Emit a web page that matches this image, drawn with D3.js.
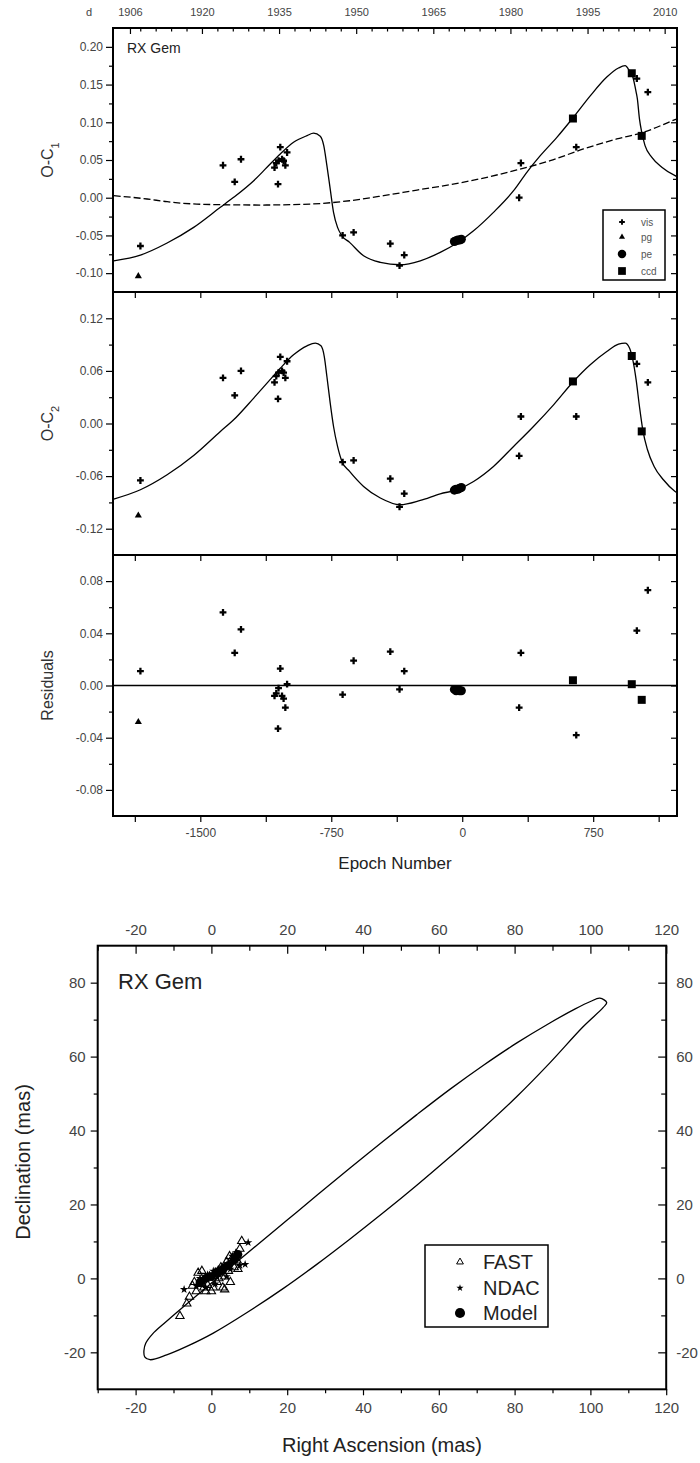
<!DOCTYPE html>
<html>
<head>
<meta charset="utf-8">
<script src="https://cdn.jsdelivr.net/npm/d3@7"></script>
<style>
  body { margin: 0; background: #fff; }
  svg text { font-family: Arial, "Liberation Sans", sans-serif; }
  .tick text { fill: #444; }
  .axis path.domain { display: none; }
  .axis line { stroke: #000; stroke-width: 1.2; }
</style>
</head>
<body>
<svg id="chart"></svg>
<script>
// ---------- O-C data ----------
const obsEpoch = [-1855, -1843, -1370, -1303, -1267, -1042, -1055, -1065, -1052, -1032, -1013, -1003, -1075, -1023,
  -685, -622, -412, -359, -332, -45, -35, -25, -15, -5, 336, 326, 634, 653, 971, 1000, 1063, 1028];
const obsType = ['pg', 'vis', 'vis', 'vis', 'vis', 'vis', 'vis', 'vis', 'vis', 'vis', 'vis', 'vis', 'vis', 'vis',
  'vis', 'vis', 'vis', 'vis', 'vis', 'pe', 'pe', 'pe', 'pe', 'pe', 'vis', 'vis', 'ccd', 'vis', 'ccd', 'vis', 'vis', 'ccd'];
const obsOC1 = [-0.104, -0.064, 0.043, 0.021, 0.051, 0.067, 0.018, 0.046, 0.049, 0.051, 0.043, 0.060, 0.040, 0.049,
  -0.050, -0.046, -0.061, -0.090, -0.076, -0.058, -0.057, -0.056, -0.056, -0.055, 0.046, 0.000, 0.105, 0.067, 0.165, 0.158, 0.140, 0.082];
const obsOC2 = [-0.105, -0.065, 0.052, 0.032, 0.060, 0.076, 0.028, 0.054, 0.058, 0.060, 0.052, 0.071, 0.047, 0.058,
  -0.044, -0.042, -0.063, -0.095, -0.080, -0.076, -0.075, -0.075, -0.074, -0.073, 0.008, -0.037, 0.048, 0.008, 0.077, 0.068, 0.047, -0.009];
const obsResidual = [-0.028, 0.011, 0.056, 0.025, 0.043, 0.013, -0.033, -0.006, -0.002, -0.008, -0.017, 0.001, -0.008, -0.010,
  -0.007, 0.019, 0.026, -0.003, 0.011, -0.003, -0.004, -0.003, -0.004, -0.004, 0.025, -0.017, 0.004, -0.038, 0.001, 0.042, 0.073, -0.011];

// fitted curves, epoch / value pairs
const fitOC1 = [[-1996, -0.0836], [-1843, -0.076], [-1690, -0.060], [-1538, -0.0393], [-1385, -0.0127], [-1309, 0.0005],
  [-1194, 0.0226], [-1118, 0.0403], [-1042, 0.058], [-966, 0.0735], [-889, 0.0823], [-851, 0.0855], [-813, 0.0815],
  [-793, 0.069], [-775, 0.0425], [-756, 0.0115], [-737, -0.0194], [-714, -0.0393], [-689, -0.0504], [-645, -0.0592],
  [-565, -0.077], [-469, -0.0857], [-355, -0.0889], [-240, -0.0836], [-126, -0.0725], [-30, -0.060], [65, -0.0438],
  [179, -0.0194], [294, 0.0093], [370, 0.0337], [447, 0.0557], [542, 0.080], [637, 0.1067], [733, 0.135], [828, 0.160],
  [895, 0.172], [933, 0.175], [958, 0.168], [977, 0.160], [996, 0.140], [1003, 0.131], [1015, 0.1045], [1028, 0.0868],
  [1047, 0.069], [1086, 0.0536], [1143, 0.0403], [1219, 0.0292], [1230, 0.028]];
const fitQuad = [[-1996, 0.0027], [-1805, -0.0017], [-1690, -0.0053], [-1481, -0.0088], [-1156, -0.0097], [-870, -0.0084],
  [-645, -0.004], [-450, 0.0027], [-259, 0.0102], [-69, 0.0173], [122, 0.0261], [313, 0.0368], [504, 0.0491],
  [694, 0.0646], [885, 0.0779], [1038, 0.0868], [1219, 0.1035], [1230, 0.1045]];
const fitOC2 = [[-1996, -0.0862], [-1843, -0.0756], [-1690, -0.0585], [-1538, -0.0365], [-1385, -0.0091], [-1309, 0.0042],
  [-1194, 0.029], [-1118, 0.046], [-1042, 0.063], [-966, 0.0783], [-889, 0.0886], [-841, 0.0917], [-809, 0.0886],
  [-790, 0.0764], [-775, 0.0536], [-756, 0.0233], [-737, -0.0034], [-714, -0.0262], [-689, -0.0433], [-645, -0.0547],
  [-565, -0.0718], [-469, -0.085], [-355, -0.0927], [-240, -0.0878], [-126, -0.0802], [-30, -0.0756], [65, -0.0661],
  [179, -0.049], [294, -0.0262], [408, -0.0034], [523, 0.0213], [637, 0.0479], [733, 0.067], [828, 0.0821],
  [895, 0.0905], [933, 0.0917], [958, 0.086], [977, 0.0726], [996, 0.0498], [1015, 0.0194], [1034, -0.0072],
  [1061, -0.03], [1099, -0.049], [1152, -0.0642], [1219, -0.0775], [1230, -0.079]];

// axis ticks
const epochTicks = [-1875, -1500, -1125, -750, -375, 0, 375, 750, 1125];
const epochLabels = [-1500, -750, 0, 750];
const yearLabels = [1906, 1920, 1935, 1950, 1965, 1980, 1995, 2010];
const yearMinor = [1908, 1911, 1914, 1917, 1923, 1926, 1929, 1932, 1938, 1941, 1944, 1947, 1953, 1956, 1959, 1962,
  1968, 1971, 1974, 1977, 1983, 1986, 1989, 1992, 1998, 2001, 2004, 2007];
const oc1Major = [-0.10, -0.05, 0.00, 0.05, 0.10, 0.15, 0.20];
const oc1Minor = [-0.075, -0.025, 0.025, 0.075, 0.125, 0.175];
const oc2Major = [-0.12, -0.06, 0.00, 0.06, 0.12];
const oc2Minor = [-0.09, -0.03, 0.03, 0.09];
const resMajor = [-0.08, -0.04, 0.00, 0.04, 0.08];
const resMinor = [-0.06, -0.02, 0.02, 0.06];
const legendTypes = ['vis', 'pg', 'pe', 'ccd'];

// ---------- astrometric orbit data ----------
// upper branch from the left tip to the right tip, then the lower branch back
const orbitRA = [-17.8, -17.3, -15.5, -12.5, -8.0, -2.0, 5.0, 12.0, 20.0, 28.0, 36.5, 45.4, 54.2, 63.0, 71.7, 80.6, 89.3, 96.0, 100.0, 102.5, 104.3,
  103.4, 98.0, 89.3, 80.6, 71.7, 63.0, 54.2, 45.4, 36.5, 27.8, 19.0, 9.3, 0.5, -6.5, -11.8, -16.2, -17.6];
const orbitDec = [-19.5, -17.5, -15.0, -12.2, -8.2, -3.0, 3.0, 9.0, 15.8, 22.6, 29.8, 37.2, 44.3, 51.2, 57.6, 63.7, 69.1, 72.9, 74.9, 75.8, 74.6,
  73.3, 68.0, 58.3, 49.2, 40.7, 32.9, 25.2, 17.8, 10.6, 3.8, -2.7, -9.3, -14.8, -18.4, -20.7, -22.0, -21.2];
const fastRA = [-8.3, -6.5, -5.8, -4.5, -3.5, -2.5, -1.5, -0.5, 0.5, 1.0, 1.5, 2.5, 3.0, 3.5, 4.0, 4.5, 5.0, 5.5, 6.0, 6.5, 7.0, 7.5, 8.0, -2.0, -3.0, 2.0, 0.0, 3.5,
  -4.0, -1.0, 1.8, 4.8, 6.8, -5.0];
const fastDec = [-10.2, -6.8, -5.0, -1.0, 1.5, 2.0, -3.5, 0.5, -2.5, 1.5, -1.0, 3.0, -2.5, 0.5, 4.5, 2.0, -1.0, 5.5, 3.0, 6.5, 2.5, 8.0, 10.1, -2.5, -1.5, 0.0, -3.5, -3.0,
  -3.5, -1.8, 2.0, 6.0, 4.8, -2.0];
const ndacRA = [-7.2, -4.0, -3.0, -2.0, -1.0, 0.0, 0.5, 1.5, 2.0, 3.0, 3.5, 4.5, 5.0, 5.5, 6.0, 6.5, 7.0, 8.9, 9.7, -1.5, 1.0, 4.0, 7.5];
const ndacDec = [-3.0, -2.0, 0.0, -1.0, 1.0, 0.0, 2.0, 0.5, 2.5, 1.5, 3.5, 4.0, 2.5, 6.0, 4.5, 7.0, 5.5, 3.8, 9.7, -2.5, -1.5, 0.5, 3.5];
const modelRA = [-3.0, -1.5, 0.0, 1.5, 3.0, 4.5, 6.0, 7.0];
const modelDec = [-1.0, 0.0, 0.5, 1.5, 2.5, 3.5, 5.0, 6.5];
const orbitTicks = [-20, 0, 20, 40, 60, 80, 100, 120];
const orbitMinorX = [-30, -10, 10, 30, 50, 70, 90, 110];
const decTicks = [-20, 0, 20, 40, 60, 80];
const decMinor = [-10, 10, 30, 50, 70];
const orbitLegend = ['FAST', 'NDAC', 'Model'];

// ---------- setup ----------
const svg = d3.select('#chart').attr('width', 700).attr('height', 1463);
svg.append('rect').attr('width', 700).attr('height', 1463).attr('fill', '#fff');

const symbolFor = {
  vis: d3.symbol().type(d3.symbolCross).size(26),
  pg: d3.symbol().type(d3.symbolTriangle).size(22),
  pe: d3.symbol().type(d3.symbolCircle).size(64),
  ccd: d3.symbol().type(d3.symbolSquare).size(64)
};
const legendSymbol = {
  vis: d3.symbol().type(d3.symbolCross).size(18),
  pg: d3.symbol().type(d3.symbolTriangle).size(16),
  pe: d3.symbol().type(d3.symbolCircle).size(56),
  ccd: d3.symbol().type(d3.symbolSquare).size(60)
};
const fmt2 = d => d.toFixed(2);

const x = d3.scaleLinear().domain([-2000, 1230]).range([113, 677]);
const xYear = d3.scaleLinear().domain([1902.7, 2012.4]).range([113, 677]);

const panels = [
  { label: 'O-C', sub: '1', top: 28, bottom: 292, domain: [-0.125, 0.225], major: oc1Major, minor: oc1Minor,
    values: obsOC1, curves: [{ data: fitOC1 }, { data: fitQuad, dash: '7,3' }] },
  { label: 'O-C', sub: '2', top: 292, bottom: 555, domain: [-0.15, 0.15], major: oc2Major, minor: oc2Minor,
    values: obsOC2, curves: [{ data: fitOC2 }] },
  { label: 'Residuals', top: 555, bottom: 816, domain: [-0.1, 0.1], major: resMajor, minor: resMinor,
    values: obsResidual, curves: [] }
];

panels.forEach((p, i) => {
  const y = d3.scaleLinear().domain(p.domain).range([p.bottom, p.top]);
  const g = svg.append('g');

  g.append('clipPath').attr('id', 'clip' + i)
    .append('rect').attr('x', 113).attr('y', p.top).attr('width', 564).attr('height', p.bottom - p.top);

  // left axis, outward ticks
  g.append('g').attr('class', 'axis').attr('transform', 'translate(113,0)')
    .style('font-size', '12px')
    .call(d3.axisLeft(y).tickValues(p.major).tickSize(7).tickPadding(3).tickFormat(fmt2));
  g.append('g').attr('class', 'axis').attr('transform', 'translate(113,0)')
    .call(d3.axisLeft(y).tickValues(p.minor).tickSize(4).tickFormat(''));
  // right axis, inward ticks
  g.append('g').attr('class', 'axis').attr('transform', 'translate(677,0)')
    .call(d3.axisRight(y).tickValues(p.major).tickSize(-6).tickFormat(''));
  g.append('g').attr('class', 'axis').attr('transform', 'translate(677,0)')
    .call(d3.axisRight(y).tickValues(p.minor).tickSize(-4).tickFormat(''));

  if (i > 0) {
    g.append('g').attr('class', 'axis').attr('transform', `translate(0,${p.top})`)
      .call(d3.axisTop(x).tickValues(epochTicks).tickSize(-6).tickFormat(''));
  }

  // curves
  const line = d3.line().x(d => x(d[0])).y(d => y(d[1])).curve(d3.curveMonotoneX);
  p.curves.forEach(c => {
    g.append('path').datum(c.data)
      .attr('clip-path', `url(#clip${i})`)
      .attr('d', line)
      .attr('fill', 'none').attr('stroke', '#000').attr('stroke-width', 1.3)
      .attr('stroke-dasharray', c.dash || null);
  });
  if (i === 2) {
    g.append('line').attr('x1', 113).attr('x2', 677).attr('y1', y(0)).attr('y2', y(0))
      .attr('stroke', '#000').attr('stroke-width', 1.5);
  }

  // observations
  g.selectAll('.obs').data(obsEpoch).join('path')
    .attr('class', 'obs')
    .attr('transform', (e, j) => `translate(${x(e)},${y(p.values[j])})`)
    .attr('d', (e, j) => symbolFor[obsType[j]]())
    .attr('fill', '#000');

  // frame
  g.append('rect').attr('x', 113).attr('y', p.top).attr('width', 564).attr('height', p.bottom - p.top)
    .attr('fill', 'none').attr('stroke', '#000').attr('stroke-width', 2);

  // axis title
  const t = g.append('text')
    .attr('transform', `translate(53,${(p.top + p.bottom) / 2}) rotate(-90)`)
    .attr('text-anchor', 'middle').attr('font-size', 16).attr('fill', '#333');
  t.append('tspan').text(p.label);
  if (p.sub) t.append('tspan').attr('baseline-shift', 'sub').attr('font-size', 11).text(p.sub);
});

// bottom epoch axis
svg.append('g').attr('class', 'axis').attr('transform', 'translate(0,816)')
  .style('font-size', '12px')
  .call(d3.axisBottom(x).tickValues(epochTicks).tickSize(6).tickPadding(6)
    .tickFormat(d => epochLabels.includes(d) ? String(d) : ''));
svg.append('text').attr('x', 395).attr('y', 869).attr('text-anchor', 'middle')
  .attr('font-size', 17).attr('fill', '#222').text('Epoch Number');

// top year axis
svg.append('g').attr('class', 'axis').attr('transform', 'translate(0,28)')
  .style('font-size', '11px')
  .call(d3.axisTop(xYear).tickValues(yearLabels).tickSize(-6).tickPadding(12).tickFormat(d => String(d)));
svg.append('g').attr('class', 'axis').attr('transform', 'translate(0,28)')
  .call(d3.axisTop(xYear).tickValues(yearMinor).tickSize(-3.5).tickFormat(''));
svg.append('text').attr('x', 89).attr('y', 16).attr('text-anchor', 'middle')
  .attr('font-size', 11).attr('fill', '#444').text('d');

svg.append('text').attr('x', 127).attr('y', 53).attr('font-size', 14).attr('fill', '#222').text('RX Gem');

// O-C legend
const leg = svg.append('g');
leg.append('rect').attr('x', 603).attr('y', 210).attr('width', 62).attr('height', 70)
  .attr('fill', '#fff').attr('stroke', '#000').attr('stroke-width', 1.5);
legendTypes.forEach((k, i) => {
  const ly = [222, 237, 254, 271][i];
  leg.append('path').attr('transform', `translate(622,${ly})`).attr('d', legendSymbol[k]()).attr('fill', '#000');
  leg.append('text').attr('x', 641).attr('y', ly).attr('dy', '0.35em')
    .attr('font-size', 10).attr('fill', '#555').text(k);
});

// ---------- orbit chart ----------
const ox = d3.scaleLinear().domain([-30, 120]).range([97.7, 666.2]);
const oy = d3.scaleLinear().domain([-30, 90]).range([1389.3, 945.7]);
const og = svg.append('g');

const ox0 = 97.7, ox1 = 666.2, oy0 = 945.7, oy1 = 1389.3;
og.append('g').attr('class', 'axis').attr('transform', `translate(0,${oy1})`).style('font-size', '15px')
  .call(d3.axisBottom(ox).tickValues(orbitTicks).tickSize(6).tickPadding(7).tickFormat(d => String(d)));
og.append('g').attr('class', 'axis').attr('transform', `translate(0,${oy1})`)
  .call(d3.axisBottom(ox).tickValues(orbitMinorX).tickSize(4).tickFormat(''));
og.append('g').attr('class', 'axis').attr('transform', `translate(0,${oy0})`).style('font-size', '15px')
  .call(d3.axisTop(ox).tickValues(orbitTicks).tickSize(-8).tickPadding(11).tickFormat(d => String(d)));
og.append('g').attr('class', 'axis').attr('transform', `translate(0,${oy0})`)
  .call(d3.axisTop(ox).tickValues(orbitMinorX).tickSize(-5).tickFormat(''));
og.append('g').attr('class', 'axis').attr('transform', `translate(${ox0},0)`).style('font-size', '15px')
  .call(d3.axisLeft(oy).tickValues(decTicks).tickSize(7).tickPadding(5).tickFormat(d => String(d)));
og.append('g').attr('class', 'axis').attr('transform', `translate(${ox0},0)`)
  .call(d3.axisLeft(oy).tickValues(decMinor).tickSize(4).tickFormat(''));
og.append('g').attr('class', 'axis').attr('transform', `translate(${ox1},0)`).style('font-size', '15px')
  .call(d3.axisRight(oy).tickValues(decTicks).tickSize(-8).tickPadding(10).tickFormat(d => String(d)));
og.append('g').attr('class', 'axis').attr('transform', `translate(${ox1},0)`)
  .call(d3.axisRight(oy).tickValues(decMinor).tickSize(-5).tickFormat(''));

// orbit ellipse
const orbit = orbitRA.map((v, i) => [v, orbitDec[i]]);
og.append('path').datum(orbit)
  .attr('d', d3.line().x(d => ox(d[0])).y(d => oy(d[1])).curve(d3.curveCatmullRomClosed.alpha(0.5)))
  .attr('fill', 'none').attr('stroke', '#000').attr('stroke-width', 1.3);

const triOpen = d3.symbol().type(d3.symbolTriangle).size(30);
const star = d3.symbol().type(d3.symbolStar).size(22);
const dot = d3.symbol().type(d3.symbolCircle).size(60);

og.selectAll('.fast').data(fastRA).join('path').attr('class', 'fast')
  .attr('transform', (v, i) => `translate(${ox(v)},${oy(fastDec[i])})`)
  .attr('d', triOpen()).attr('fill', 'none').attr('stroke', '#000').attr('stroke-width', 1.1);
og.selectAll('.ndac').data(ndacRA).join('path').attr('class', 'ndac')
  .attr('transform', (v, i) => `translate(${ox(v)},${oy(ndacDec[i])})`)
  .attr('d', star()).attr('fill', '#000');
og.selectAll('.model').data(modelRA).join('path').attr('class', 'model')
  .attr('transform', (v, i) => `translate(${ox(v)},${oy(modelDec[i])})`)
  .attr('d', dot()).attr('fill', '#000');

og.append('rect').attr('x', ox0).attr('y', oy0).attr('width', ox1 - ox0).attr('height', oy1 - oy0)
  .attr('fill', 'none').attr('stroke', '#000').attr('stroke-width', 2);

og.append('text').attr('x', 118).attr('y', 989).attr('font-size', 22).attr('fill', '#222').text('RX Gem');
og.append('text').attr('x', 382).attr('y', 1452).attr('text-anchor', 'middle')
  .attr('font-size', 20).attr('fill', '#222').text('Right Ascension (mas)');
og.append('text').attr('transform', 'translate(30,1162) rotate(-90)').attr('text-anchor', 'middle')
  .attr('font-size', 20).attr('fill', '#222').text('Declination (mas)');

// orbit legend
const oleg = og.append('g');
oleg.append('rect').attr('x', 425).attr('y', 1245).attr('width', 123).attr('height', 82)
  .attr('fill', '#fff').attr('stroke', '#000').attr('stroke-width', 1.5);
const olegSym = [
  d3.symbol().type(d3.symbolTriangle).size(20)(),
  d3.symbol().type(d3.symbolStar).size(16)(),
  d3.symbol().type(d3.symbolCircle).size(80)()
];
orbitLegend.forEach((name, i) => {
  const ly = [1262, 1288, 1313][i];
  oleg.append('path').attr('transform', `translate(460,${ly})`).attr('d', olegSym[i])
    .attr('fill', i === 0 ? 'none' : '#000').attr('stroke', i === 0 ? '#000' : 'none').attr('stroke-width', 1);
  oleg.append('text').attr('x', 483).attr('y', ly).attr('dy', '0.36em')
    .attr('font-size', 20).attr('fill', '#222').text(name);
});
</script>
</body>
</html>
